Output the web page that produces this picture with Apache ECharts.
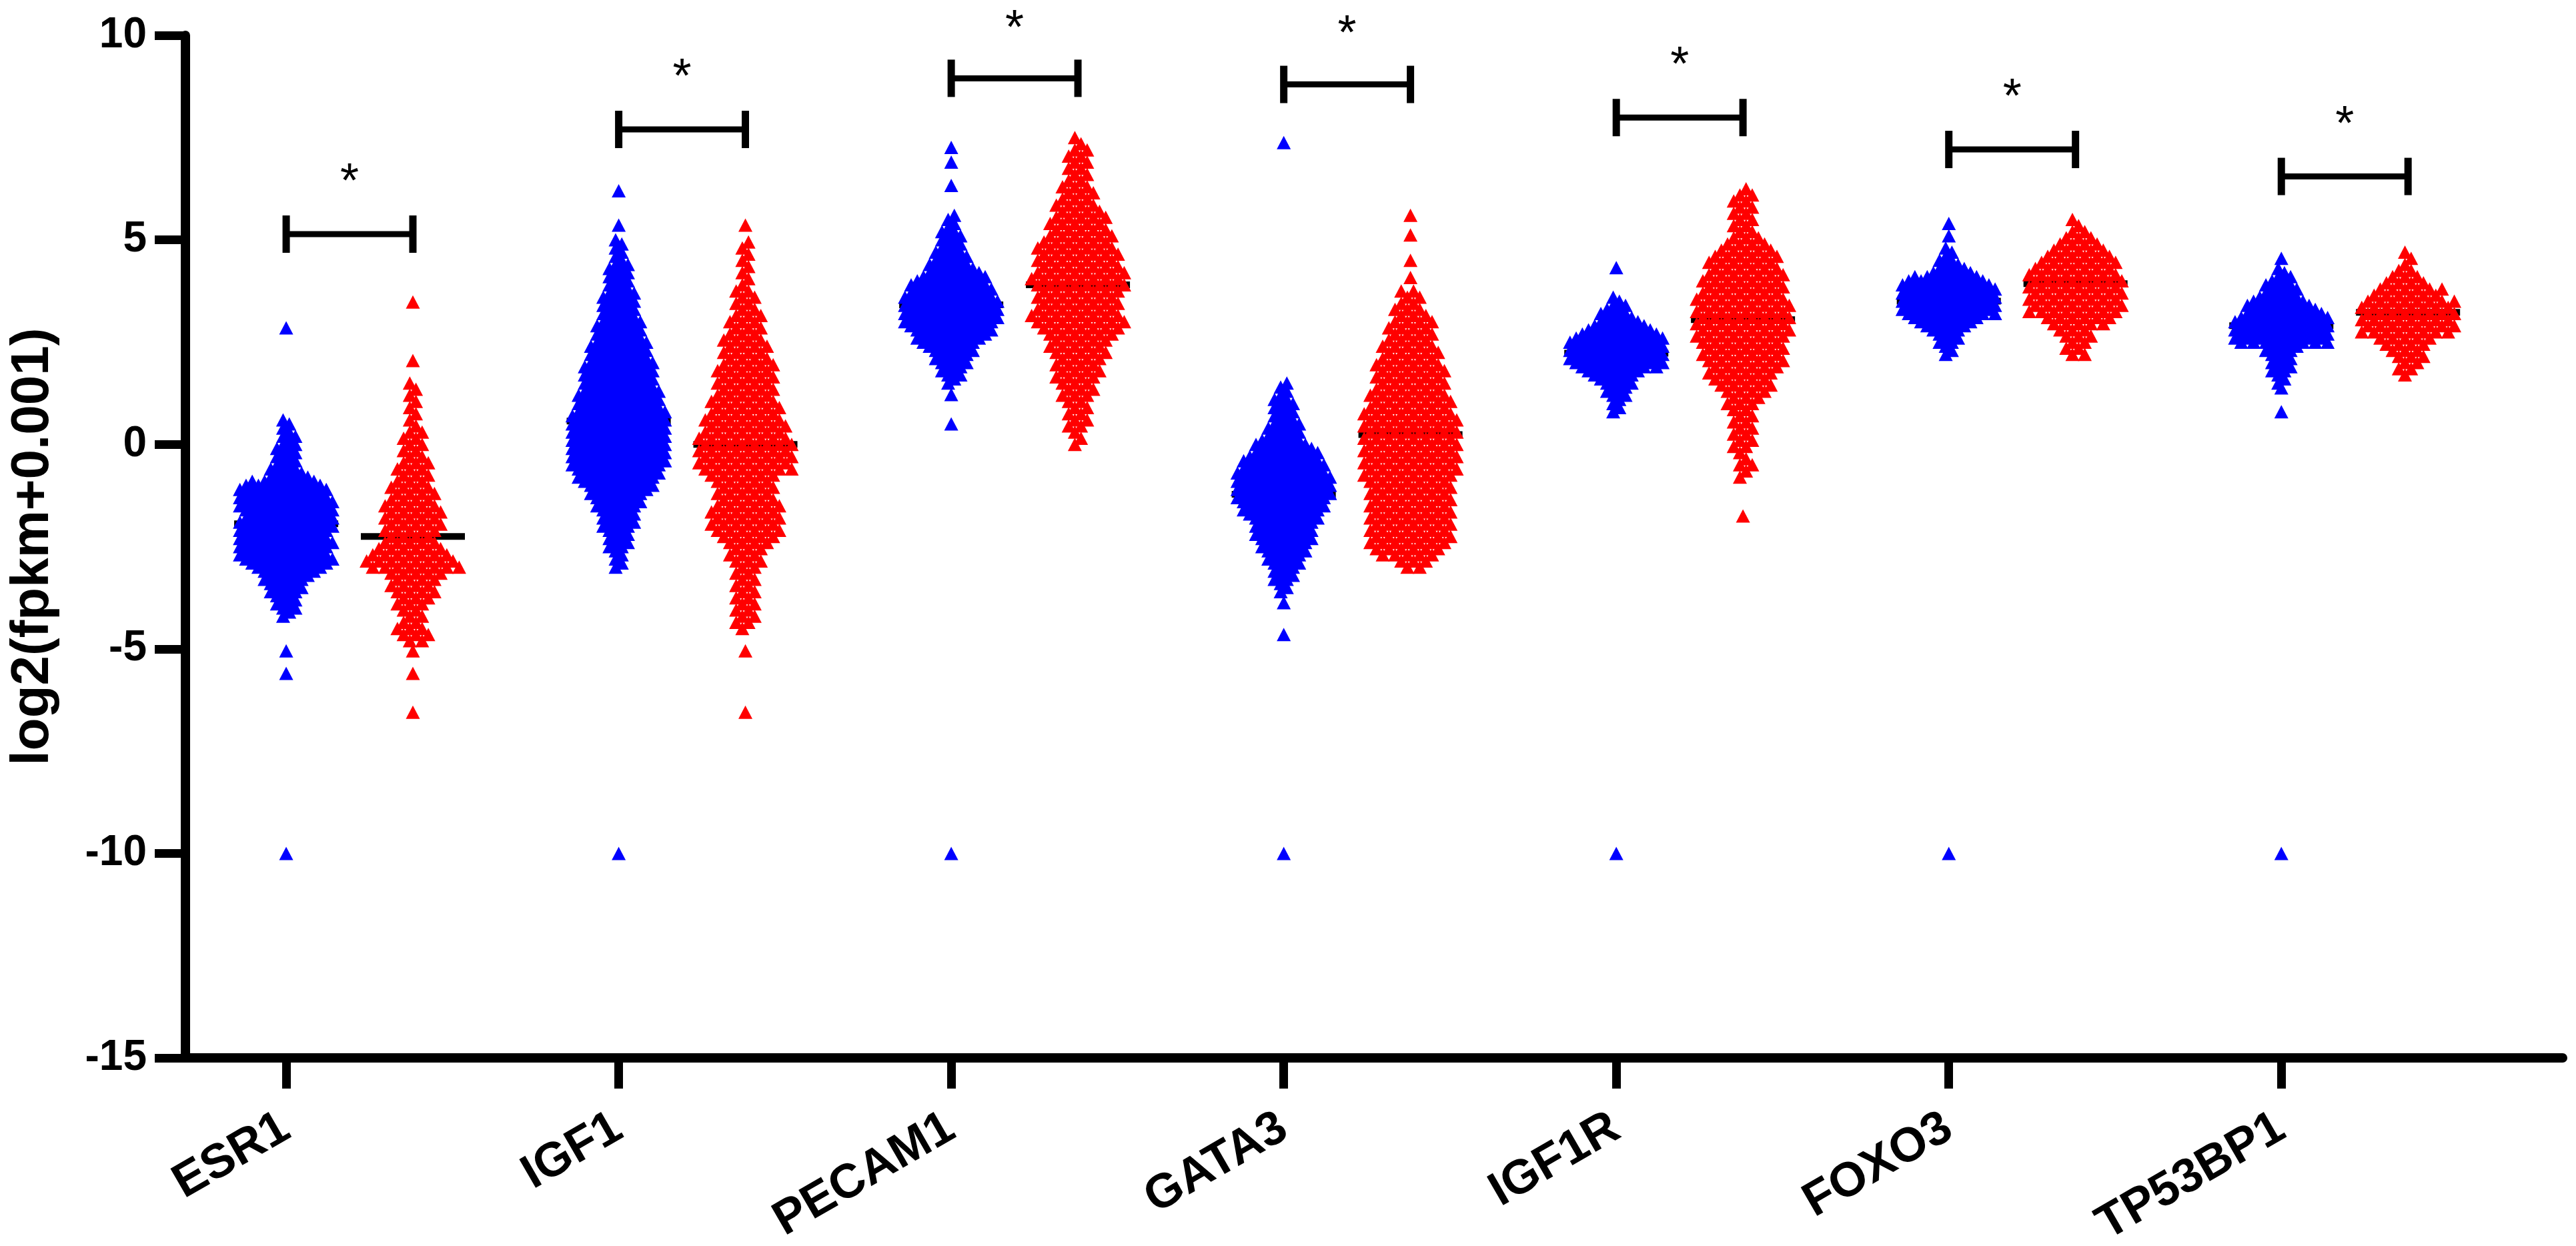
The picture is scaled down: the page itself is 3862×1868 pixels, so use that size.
<!DOCTYPE html>
<html>
<head>
<meta charset="utf-8">
<script src="https://cdn.jsdelivr.net/npm/echarts@6/dist/echarts.min.js"></script>
<style>
  html, body { margin: 0; padding: 0; background: #fff; }
  #main { width: 3862px; height: 1868px; }
</style>
</head>
<body>
<div id="main"></div>
<script>
var genes = ['ESR1', 'IGF1', 'PECAM1', 'GATA3', 'IGF1R', 'FOXO3', 'TP53BP1'];

// swarms are read as horizontal rows: how many triangles sit side by side in each row
// blue rows are 0.1 apart (dense), red rows 0.15 apart (a little looser)
var blueStep = 0.1;
var redStep = 0.15;

var blueStart = [-4.2, -3.0, 1.5, -3.6, 0.8, 2.2, 1.5];
var blueCounts = [
  [1,1,2,2,2,2,3,3,3,4,4,5,6,7,8, 8,7,8,8,8,7,8,8,8,8,7,8,8,8,8,7,8, 7,6,4,3,3,2,2,2,2,2,2,1,2,1,1,1,1],
  [1,1,1,1,1,2,2,2,2,2, 3,3,3,3,3,4,4,4,5,5, 6,6,7,7,7,8,8,8,8,8, 8,8,8,8,8,8,8,8,8,7, 7,7,7,7,6,6,6,6,6,6, 6,5,5,5,5,5,4,4,4,4, 4,3,3,3,3,3,3,3,2,2, 2,2,2,2,2,1,1,1,1,1, 1],
  [1,1,2,2,2,3,3,3,4,4, 5,6,6,7,7,8,8,8,8,8, 8,8,7,7,7,6,6,5,4,4, 3,3,3,2,2,2,2,2,1,1, 1,1],
  [1,1,1,2,2,2,2,3,3,3, 4,4,4,5,5,5,5,5,6,6, 7,7,7,8,8,8,8,8,8,8, 7,7,7,6,6,5,5,4,3,3, 3,3,2,2,2,2,2,2,1,1, 1,1],
  [1,1,1,1,2,2,2,3,3,4, 5,7,8,8,8,8,8,8,8,7, 6,5,4,3,3,2,2,1,1],
  [1,1,1,2,2,2,3,4,5,6, 8,8,8,8,8,8,8,8,7,6, 4,3,2,2,1,1,1],
  [1,1,1,2,2,2,2,2,3,3, 8,8,8,8,8,8,8,7,6,6, 5,4,3,3,3,2,2,1,1]
];
var blueExtra = [
  [-10, -5.6, -5.05, 2.85],
  [-10, 5.36, 6.2],
  [-10, 0.5, 1.22, 6.33, 6.9, 7.26],
  [-10, -4.65, -3.87, 7.38],
  [-10, 4.32],
  [-10, 5.1, 5.4],
  [-10, 0.8, 1.38, 4.55]
];

var redStart = [-4.8, -4.5, 0.0, -3.0, -0.8, 2.2, 1.7];
var redCounts = [
  [2,3,3,2,2, 2,3,3,4,4, 4,5,8,8,7, 6,5,4,5,5, 5,5,5,4,4, 4,3,3,3,3, 2,2,2,2,2, 1,1,1,1,1, 1,1,1],
  [1,2,2,2,2, 2,2,2,2,2, 2,3,3,3,4, 5,6,6,6,6, 6,5,5,5,5, 6,8,8,8,8, 8,8,7,7,7, 6,6,6,5,5, 5,5,5,5,4, 4,4,4,3,3, 3,3,2,2,2, 2,1,1,1,1, 1,1,1,1],
  [1,1,1,2,2, 2,2,2,3,3, 3,4,4,4,4, 5,5,5,6,7, 8,8,7,7,7, 7,8,8,8,7, 7,7,7,6,6, 5,5,5,4,4, 3,3,3,2,2, 2,2,2,2,1, 1],
  [2,3,5,6,7, 7,7,7,7,7, 7,7,7,7,7, 8,8,8,8,8, 8,8,8,8,8, 8,7,7,7,6, 6,6,6,6,5, 5,5,4,4,4, 4,3,3,2,2, 2],
  [1,1,2,1,1, 2,2,2,2,2, 2,2,3,3,4, 5,5,6,6,7, 7,7,7,8,8, 8,8,8,8,8, 7,7,7,7,6, 6,6,5,4,3, 2,2,2,2,2, 2,2,1],
  [2,2,2,3,3, 5,6,8,8,8, 8,8,8,8,7, 7,6,5,4,3, 2,1,1],
  [1,2,2,3,3, 4,5,8,8,8, 8,8,8,6,6, 4,3,2,1,1, 1]
];
var redExtra = [
  [-6.55, -5.6, -5.05, 2.05, 3.48],
  [-6.55, -5.05, 5.36],
  [],
  [4.08, 4.5, 5.12, 5.6],
  [-1.75],
  [],
  []
];

var blueMedian = [-1.94, 0.57, 3.41, -1.22, 2.23, 3.5, 2.9];
var redMedian = [-2.25, 0.0, 3.9, 0.24, 3.05, 3.93, 3.23];
var barY = [5.14, 7.7, 8.95, 8.8, 7.99, 7.21, 6.55];
var starY = [6.7, 9.27, 10.45, 10.33, 9.55, 8.77, 8.1];

var redShift = 0.381;   // red column sits to the right of each gene tick
var xMin = -0.303, xMax = 6.846;
var FONT = '"Liberation Sans", Arial, sans-serif';

var plotW = 3862 - 278 - 20;
var unitPx = plotW / (xMax - xMin);
var gap = 18.5 / unitPx;
var medHalf = 78 / unitPx;

// beeswarm layout: every other row sits half a slot over, so rows interlock
function swarm(center, start, step, counts, extra) {
  var pts = [];
  counts.forEach(function (k, r) {
    var y = +(start + r * step).toFixed(2);
    var s = r % 2 ? 0.25 : -0.25;
    var m0 = Math.round(-(k - 1) / 2 - s);
    for (var j = 0; j < k; j++) {
      pts.push([center + (m0 + j + s) * gap, y]);
    }
  });
  extra.forEach(function (y) { pts.push([center, y]); });
  return pts;
}

var bluePts = [], redPts = [], medians = [], brackets = [];
genes.forEach(function (g, i) {
  bluePts = bluePts.concat(swarm(i, blueStart[i], blueStep, blueCounts[i], blueExtra[i]));
  redPts = redPts.concat(swarm(i + redShift, redStart[i], redStep, redCounts[i], redExtra[i]));
  medians.push([i, blueMedian[i]], [i + redShift, redMedian[i]]);
  brackets.push([i, i + redShift, barY[i], starY[i]]);
});

var tickIdx = genes.map(function (g, i) { return i; });

var myChart = echarts.init(document.getElementById('main'));
var option = {
  animation: false,
  backgroundColor: '#fff',
  grid: { left: 278, right: 20, top: 53, bottom: 282, outerBoundsMode: 'none' },
  xAxis: {
    type: 'value',
    min: xMin,
    max: xMax,
    splitLine: { show: false },
    axisLine: { onZero: false, lineStyle: { color: '#000', width: 14 } },
    axisTick: { customValues: tickIdx, length: 46, lineStyle: { color: '#000', width: 13 } },
    axisLabel: {
      customValues: tickIdx,
      formatter: function (v) { return genes[Math.round(v)]; },
      rotate: 30,
      margin: 100,
      fontSize: 72,
      fontWeight: 'bold',
      fontFamily: FONT,
      color: '#000'
    }
  },
  yAxis: {
    type: 'value',
    min: -15,
    max: 10,
    interval: 5,
    name: 'log2(fpkm+0.001)',
    nameLocation: 'middle',
    nameGap: 188,
    nameTextStyle: { fontSize: 80, fontWeight: 'bold', fontFamily: FONT, color: '#000' },
    splitLine: { show: false },
    axisLine: { show: true, onZero: false, lineStyle: { color: '#000', width: 14 } },
    axisTick: { show: true, length: 46, lineStyle: { color: '#000', width: 13 } },
    axisLabel: { margin: 58, fontSize: 64, fontWeight: 'bold', fontFamily: FONT, color: '#000' }
  },
  series: [
    {
      type: 'custom',
      z: 1,
      clip: false,
      data: medians,
      encode: { x: 0, y: 1 },
      renderItem: function (params, api) {
        var a = api.coord([api.value(0) - medHalf, api.value(1)]);
        var b = api.coord([api.value(0) + medHalf, api.value(1)]);
        return {
          type: 'line',
          shape: { x1: a[0], y1: a[1], x2: b[0], y2: b[1] },
          style: { stroke: '#000', lineWidth: 10 }
        };
      }
    },
    {
      type: 'scatter',
      z: 2,
      progressive: 0,
      symbol: 'triangle',
      symbolSize: [21, 20],
      itemStyle: { color: '#0000ff', opacity: 1 },
      data: bluePts
    },
    {
      type: 'scatter',
      z: 2,
      progressive: 0,
      symbol: 'triangle',
      symbolSize: [21, 20],
      itemStyle: { color: '#ff0000', opacity: 1 },
      data: redPts
    },
    {
      type: 'custom',
      z: 3,
      clip: false,
      data: brackets,
      encode: { x: 0, y: 2 },
      renderItem: function (params, api) {
        var l = api.coord([api.value(0), api.value(2)]);
        var r = api.coord([api.value(1), api.value(2)]);
        var s = api.coord([(api.value(0) + api.value(1)) / 2, api.value(3)]);
        var ink = { stroke: '#000', lineWidth: 11 };
        return {
          type: 'group',
          children: [
            { type: 'line', shape: { x1: l[0], y1: l[1], x2: r[0], y2: r[1] }, style: { stroke: '#000', lineWidth: 9 } },
            { type: 'line', shape: { x1: l[0], y1: l[1] - 28, x2: l[0], y2: l[1] + 28 }, style: ink },
            { type: 'line', shape: { x1: r[0], y1: r[1] - 28, x2: r[0], y2: r[1] + 28 }, style: ink },
            {
              type: 'text',
              style: {
                x: s[0], y: s[1] + 20, text: '*',
                fontSize: 72, fontFamily: FONT, fill: '#000',
                align: 'center', verticalAlign: 'middle'
              }
            }
          ]
        };
      }
    }
  ]
};
myChart.setOption(option);
</script>
</body>
</html>
